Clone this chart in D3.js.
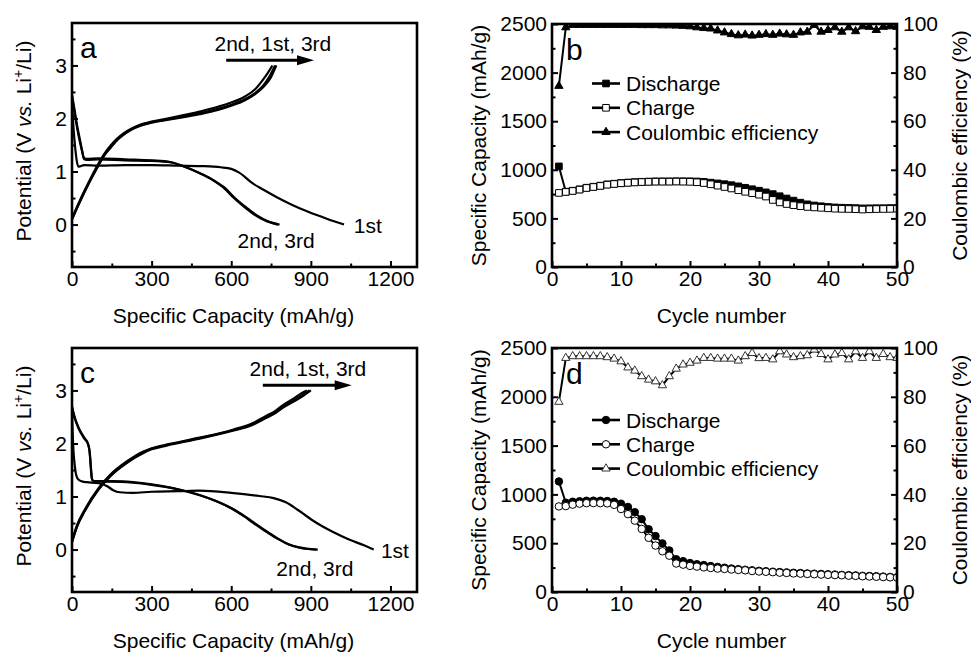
<!DOCTYPE html>
<html>
<head>
<meta charset="utf-8">
<script src="https://cdn.jsdelivr.net/npm/d3@7"></script>
<style>
  body { margin: 0; background: #fff; }
</style>
</head>
<body>
<svg id="chart" width="971" height="653"></svg>
<script>
// axis values
var capacityDomain = [0, 1300];
var capacityTicks = [0, 300, 600, 900, 1200];
var capacityMinor = [150, 450, 750, 1050];
var potentialDomain = [-0.8, 3.8];
var potentialTicks = [0, 1, 2, 3];
var potentialMinor = [-0.5, 0.5, 1.5, 2.5, 3.5];

var cycleDomain = [0, 50];
var cycleTicks = [0, 10, 20, 30, 40, 50];
var cycleMinor = [5, 15, 25, 35, 45];
var specificDomain = [0, 2500];
var specificTicks = [0, 500, 1000, 1500, 2000, 2500];
var specificMinor = [250, 750, 1250, 1750, 2250];
var efficiencyDomain = [0, 100];
var efficiencyTicks = [0, 20, 40, 60, 80, 100];
var efficiencyMinor = [10, 30, 50, 70, 90];

var legendLabels = ['Discharge', 'Charge', 'Coulombic efficiency'];

// panel a: [capacity mAh/g, potential V]
var aDischarge1 = [[0, 2.3], [6, 1.8], [12, 1.45], [18, 1.2], [24, 1.09], [32, 1.1], [45, 1.12], [100, 1.11],
  [200, 1.12], [300, 1.12], [400, 1.11], [500, 1.1], [560, 1.08], [600, 1.05], [630, 0.98], [680, 0.78],
  [720, 0.66], [770, 0.52], [830, 0.37], [890, 0.24], [960, 0.11], [1025, 0]];
var aDischarge2 = [[0, 2.45], [10, 2.15], [20, 1.85], [30, 1.6], [38, 1.4], [45, 1.25], [55, 1.24], [100, 1.25],
  [200, 1.23], [300, 1.21], [370, 1.18], [420, 1.1], [480, 0.97], [530, 0.84], [570, 0.7], [610, 0.5],
  [650, 0.33], [690, 0.18], [730, 0.07], [775, 0]];
var aDischarge3 = [[0, 2.42], [10, 2.1], [20, 1.8], [30, 1.55], [38, 1.38], [46, 1.23], [56, 1.22], [100, 1.23],
  [200, 1.21], [300, 1.2], [375, 1.17], [425, 1.09], [485, 0.96], [535, 0.83], [576, 0.69], [616, 0.49],
  [657, 0.32], [697, 0.17], [738, 0.06], [782, 0]];
var aCharge1 = [[0, 0.1], [30, 0.44], [60, 0.75], [94, 1.07], [120, 1.3], [144, 1.45], [170, 1.6], [194, 1.7],
  [225, 1.8], [256, 1.87], [300, 1.93], [381, 2.0], [481, 2.1], [550, 2.18], [600, 2.26], [650, 2.36],
  [690, 2.48], [720, 2.62], [745, 2.8], [765, 3.0]];
var aCharge2 = [[0, 0.12], [30, 0.46], [60, 0.77], [94, 1.1], [120, 1.32], [144, 1.48], [170, 1.62], [194, 1.72],
  [225, 1.81], [256, 1.88], [300, 1.94], [381, 2.02], [481, 2.13], [550, 2.22], [600, 2.3], [650, 2.41],
  [690, 2.55], [715, 2.7], [738, 2.86], [755, 3.0]];
var aCharge3 = [[0, 0.1], [30, 0.43], [60, 0.74], [94, 1.06], [120, 1.29], [144, 1.44], [170, 1.59], [194, 1.69],
  [225, 1.79], [256, 1.86], [300, 1.92], [381, 1.99], [481, 2.08], [550, 2.16], [600, 2.24], [650, 2.34],
  [690, 2.46], [722, 2.6], [750, 2.78], [770, 3.0]];

// panel c
var cDischarge1 = [[0, 2.55], [4, 2.0], [8, 1.7], [14, 1.45], [22, 1.33], [40, 1.28], [56, 1.27], [100, 1.25],
  [131, 1.2], [155, 1.12], [180, 1.08], [230, 1.07], [300, 1.09], [400, 1.1], [481, 1.11], [600, 1.07],
  [706, 1.01], [760, 0.97], [806, 0.89], [850, 0.75], [919, 0.51], [980, 0.34], [1044, 0.19], [1100, 0.08],
  [1137, 0]];
var cDischarge2 = [[0, 2.7], [10, 2.5], [25, 2.3], [45, 2.12], [60, 2.0], [66, 1.85], [70, 1.6], [73, 1.4],
  [77, 1.31], [90, 1.29], [150, 1.29], [230, 1.27], [300, 1.23], [380, 1.16], [480, 1.03], [540, 0.92],
  [606, 0.76], [650, 0.62], [681, 0.51], [725, 0.36], [769, 0.22], [810, 0.11], [856, 0.04], [920, 0]];
var cDischarge3 = [[0, 2.68], [10, 2.48], [25, 2.28], [45, 2.1], [61, 1.98], [67, 1.83], [71, 1.58], [74, 1.39],
  [78, 1.3], [92, 1.28], [150, 1.28], [230, 1.26], [300, 1.22], [385, 1.15], [485, 1.02], [545, 0.91],
  [612, 0.75], [656, 0.61], [688, 0.5], [731, 0.35], [775, 0.21], [816, 0.1], [862, 0.03], [926, 0]];
var cCharge1 = [[0, 0.15], [19, 0.44], [50, 0.75], [100, 1.14], [144, 1.39], [206, 1.64], [269, 1.83], [300, 1.9],
  [356, 1.97], [481, 2.1], [606, 2.25], [680, 2.36], [731, 2.5], [765, 2.58], [794, 2.69], [840, 2.82],
  [870, 2.92], [895, 3.0]];
var cCharge2 = [[0, 0.16], [19, 0.46], [50, 0.77], [100, 1.16], [144, 1.41], [206, 1.66], [269, 1.85], [300, 1.91],
  [356, 1.98], [481, 2.11], [606, 2.26], [680, 2.38], [731, 2.52], [765, 2.61], [794, 2.72], [836, 2.85],
  [862, 2.94], [885, 3.0]];
var cCharge3 = [[0, 0.14], [19, 0.43], [50, 0.74], [100, 1.13], [144, 1.38], [206, 1.63], [269, 1.82], [300, 1.89],
  [356, 1.96], [481, 2.09], [606, 2.24], [680, 2.35], [731, 2.48], [765, 2.57], [794, 2.67], [842, 2.81],
  [874, 2.91], [900, 3.0]];

// panels b and d: one value per cycle
var cycles = [1, 2, 3, 4, 5, 6, 7, 8, 9, 10, 11, 12, 13, 14, 15, 16, 17, 18, 19, 20, 21, 22, 23, 24, 25,
  26, 27, 28, 29, 30, 31, 32, 33, 34, 35, 36, 37, 38, 39, 40, 41, 42, 43, 44, 45, 46, 47, 48, 49, 50];

var bDischarge = [1035, 775, 785, 799, 816, 826, 837, 850, 857, 864, 869, 873, 877, 879, 881, 881, 881, 882,
  882, 882, 880, 876, 868, 860, 852, 842, 830, 815, 800, 785, 768, 750, 728, 705, 683, 662, 645, 633, 625,
  618, 613, 610, 608, 606, 603, 604, 605, 605, 606, 607];
var bCharge = [762, 772, 782, 796, 813, 823, 834, 847, 854, 861, 866, 870, 874, 876, 878, 878, 878, 879, 878,
  876, 872, 864, 851, 837, 823, 808, 790, 774, 760, 744, 725, 690, 665, 648, 636, 626, 618, 613, 609, 604,
  600, 598, 597, 595, 591, 594, 596, 597, 598, 600];
var bEfficiency = [74.5, 98.6, 99.6, 99.6, 99.6, 99.6, 99.6, 99.6, 99.6, 99.6, 99.6, 99.6, 99.5, 99.5, 99.5,
  99.4, 99.4, 99.3, 99.2, 99.0, 98.6, 98.3, 98.1, 97.3, 96.5, 95.8, 95.3, 95.6, 95.2, 95.5, 95.8, 95.5, 96.0,
  95.7, 95.5, 96.5, 96.8, 99.6, 96.8, 97.5, 98.6, 96.8, 98.6, 97.0, 99.0, 98.8, 97.5, 98.8, 99.0, 98.8];

var dDischarge = [1133, 915, 925, 930, 935, 936, 935, 932, 925, 905, 872, 818, 746, 643, 573, 498, 426, 336,
  316, 297, 285, 276, 266, 257, 249, 241, 234, 228, 222, 217, 213, 208, 204, 201, 197, 194, 190, 188, 185,
  181, 179, 176, 172, 170, 166, 164, 161, 158, 155, 151];
var dCharge = [877, 880, 895, 905, 910, 911, 910, 908, 893, 850, 798, 731, 646, 555, 476, 417, 372, 292, 280,
  267, 260, 252, 246, 240, 236, 230, 226, 222, 215, 210, 207, 203, 198, 195, 190, 188, 185, 182, 178, 176,
  173, 171, 167, 165, 161, 159, 156, 153, 150, 147];
var dEfficiency = [77.9, 95.9, 96.6, 96.6, 96.6, 96.6, 96.6, 96.2, 95.6, 94.5, 92.0, 90.7, 88.4, 87.0, 86.3,
  84.7, 88.4, 91.5, 93.2, 93.9, 94.8, 95.9, 95.9, 95.6, 95.6, 95.6, 94.8, 96.6, 97.9, 95.8, 95.9, 95.3, 98.6,
  97.3, 96.2, 96.6, 97.0, 99.3, 97.5, 95.3, 97.3, 97.9, 95.3, 98.6, 95.9, 98.6, 95.9, 97.5, 96.2, 95.9];

var fontFamily = '"Liberation Sans", Arial, Helvetica, sans-serif';
var svg = d3.select('#chart');

class Panel {
  constructor(id, left, top, width, height) {
    this.id = id;
    this.left = left;
    this.top = top;
    this.width = width;
    this.height = height;
    this.elem = svg.append("svg:g")
        .attr("transform", 'translate(' + left + ',' + top + ')')
        .attr("font-family", fontFamily);
  }

  drawAxis(axis, transform) {
    var g = this.elem.append("svg:g")
        .attr("transform", transform)
        .call(axis);
    g.attr("font-size", 21).attr("font-family", fontFamily);
    g.select('.domain').remove();
    g.selectAll('.tick line').attr("stroke", '#000').attr("stroke-width", 2);
    g.selectAll('.tick text').attr("fill", '#000');
    return g;
  }

  drawFrame() {
    this.elem.append("svg:rect")
        .attr("x", 0)
        .attr("y", 0)
        .attr("width", this.width)
        .attr("height", this.height)
        .attr("fill", 'none')
        .attr("stroke", '#000')
        .attr("stroke-width", 2.6);
  }

  drawLabel(text, x, y) {
    this.elem.append("svg:text")
        .attr("x", x)
        .attr("y", y)
        .attr("font-size", 30)
        .text(text);
  }

  drawXTitle(text, shift) {
    this.elem.append("svg:text")
        .attr("x", this.width / 2 + shift)
        .attr("y", this.height + 56)
        .attr("text-anchor", 'middle')
        .attr("font-size", 21)
        .text(text);
  }

  yTitle(x, shift) {
    return this.elem.append("svg:text")
        .attr("transform", 'translate(' + x + ',' + (this.height / 2 + shift) + ') rotate(-90)')
        .attr("text-anchor", 'middle')
        .attr("font-size", 21);
  }
}

class VoltagePanel extends Panel {
  constructor(id, left, top, width, height, discharges, charges) {
    super(id, left, top, width, height);
    this.discharges = discharges;
    this.charges = charges;
    this.x = d3.scaleLinear().domain(capacityDomain).range([0, width]);
    this.y = d3.scaleLinear().domain(potentialDomain).range([height, 0]);
  }

  draw(label, notes, arrow) {
    this.drawAxes();
    this.drawCurves();
    this.drawNotes(notes);
    this.drawArrow(arrow);
    this.drawFrame();
    this.drawLabel(label, 8, 35);
    this.drawXTitle('Specific Capacity (mAh/g)', -11);
    this.drawYTitle();
  }

  drawAxes() {
    var fmt = d3.format('d');
    this.drawAxis(d3.axisBottom(this.x).tickValues(capacityTicks).tickSize(-6).tickPadding(4).tickFormat(fmt),
        'translate(0,' + this.height + ')');
    this.drawAxis(d3.axisBottom(this.x).tickValues(capacityMinor).tickSize(-3.5).tickFormat(''),
        'translate(0,' + this.height + ')');
    this.drawAxis(d3.axisLeft(this.y).tickValues(potentialTicks).tickSize(-6).tickPadding(5).tickFormat(fmt),
        'translate(0,0)');
    this.drawAxis(d3.axisLeft(this.y).tickValues(potentialMinor).tickSize(-3.5).tickFormat(''),
        'translate(0,0)');
  }

  drawCurves() {
    var line = d3.line()
        .x(d => this.x(d[0]))
        .y(d => this.y(d[1]))
        .curve(d3.curveMonotoneX);
    this.discharges.concat(this.charges).forEach(curve => {
      this.elem.append("svg:path")
          .attr("d", line(curve))
          .attr("fill", 'none')
          .attr("stroke", '#000')
          .attr("stroke-width", 2.2)
          .attr("stroke-linejoin", 'round');
    });
  }

  drawNotes(notes) {
    notes.forEach(n => {
      this.elem.append("svg:text")
          .attr("x", this.x(n.at[0]))
          .attr("y", this.y(n.at[1]))
          .attr("font-size", 21)
          .text(n.text);
    });
  }

  drawArrow(arrow) {
    var x1 = this.x(arrow[0]);
    var x2 = this.x(arrow[1]);
    var y = this.y(arrow[2]);
    this.elem.append("svg:line")
        .attr("x1", x1)
        .attr("y1", y)
        .attr("x2", x2 - 12)
        .attr("y2", y)
        .attr("stroke", '#000')
        .attr("stroke-width", 3);
    this.elem.append("svg:path")
        .attr("d", 'M' + x2 + ',' + y + 'L' + (x2 - 17) + ',' + (y - 5) + 'L' + (x2 - 17) + ',' + (y + 5) + 'Z')
        .attr("fill", '#000');
  }

  drawYTitle() {
    var t = this.yTitle(-41, -4);
    t.append("svg:tspan").text('Potential (V ');
    t.append("svg:tspan").attr("font-style", 'italic').text('vs.');
    t.append("svg:tspan").text(' Li');
    t.append("svg:tspan").attr("font-size", 14).attr("dy", -8).text('+');
    t.append("svg:tspan").attr("dy", 8).text('/Li)');
  }
}

class CyclePanel extends Panel {
  constructor(id, left, top, width, height, discharge, charge, efficiency, style) {
    super(id, left, top, width, height);
    this.discharge = discharge;
    this.charge = charge;
    this.efficiency = efficiency;
    this.style = style;
    this.x = d3.scaleLinear().domain(cycleDomain).range([0, width]);
    this.y = d3.scaleLinear().domain(specificDomain).range([height, 0]);
    this.y2 = d3.scaleLinear().domain(efficiencyDomain).range([height, 0]);
  }

  draw(label, legendTop) {
    this.drawAxes();
    this.drawSeries();
    this.drawFrame();
    this.drawLabel(label, 14, 36);
    this.drawLegend(legendTop);
    this.drawXTitle('Cycle number', -3);
    this.yTitle(-66, 0).text('Specific Capacity (mAh/g)');
    this.yTitle(this.width + 70, 0).text('Coulombic efficiency (%)');
  }

  drawAxes() {
    var fmt = d3.format('d');
    var bottom = 'translate(0,' + this.height + ')';
    var right = 'translate(' + this.width + ',0)';
    this.drawAxis(d3.axisBottom(this.x).tickValues(cycleTicks).tickSize(-6).tickPadding(4).tickFormat(fmt), bottom);
    this.drawAxis(d3.axisBottom(this.x).tickValues(cycleMinor).tickSize(-3.5).tickFormat(''), bottom);
    this.drawAxis(d3.axisLeft(this.y).tickValues(specificTicks).tickSize(-6).tickPadding(5).tickFormat(fmt), 'translate(0,0)');
    this.drawAxis(d3.axisLeft(this.y).tickValues(specificMinor).tickSize(-3.5).tickFormat(''), 'translate(0,0)');
    this.drawAxis(d3.axisRight(this.y2).tickValues(efficiencyTicks).tickSize(-6).tickPadding(6).tickFormat(fmt), right);
    this.drawAxis(d3.axisRight(this.y2).tickValues(efficiencyMinor).tickSize(-3.5).tickFormat(''), right);
  }

  marker(g, kind, fill, stroke, x, y) {
    var size = {square: 44, circle: 44, triangle: 30}[kind];
    var type = {square: d3.symbolSquare, circle: d3.symbolCircle, triangle: d3.symbolTriangle}[kind];
    g.append("svg:path")
        .attr("transform", 'translate(' + x + ',' + y + ')')
        .attr("d", d3.symbol().type(type).size(size)())
        .attr("fill", fill)
        .attr("stroke", stroke)
        .attr("stroke-width", 1);
  }

  drawSeries() {
    this.elem.append("svg:clipPath")
        .attr("id", 'clip-' + this.id)
        .append("svg:rect")
        .attr("width", this.width)
        .attr("height", this.height);
    var g = this.elem.append("svg:g").attr("clip-path", 'url(#clip-' + this.id + ')');
    var s = this.style;
    var series = [
      {values: this.discharge, y: this.y, kind: s.shape, fill: '#000', stroke: '#000'},
      {values: this.charge, y: this.y, kind: s.shape, fill: '#fff', stroke: '#000'},
      {values: this.efficiency, y: this.y2, kind: 'triangle', fill: s.ceFill, stroke: s.ceStroke}
    ];
    series.forEach(ser => {
      var pts = cycles.map((c, i) => [this.x(c), ser.y(ser.values[i])]);
      g.append("svg:path")
          .attr("d", d3.line()(pts))
          .attr("fill", 'none')
          .attr("stroke", '#000')
          .attr("stroke-width", 2);
      pts.forEach(p => this.marker(g, ser.kind, ser.fill, ser.stroke, p[0], p[1]));
    });
  }

  drawLegend(top) {
    var s = this.style;
    var kinds = [[s.shape, '#000', '#000'], [s.shape, '#fff', '#000'], ['triangle', s.ceFill, s.ceStroke]];
    legendLabels.forEach((text, i) => {
      var y = top + i * 24.3;
      this.elem.append("svg:line")
          .attr("x1", 40)
          .attr("y1", y)
          .attr("x2", 68)
          .attr("y2", y)
          .attr("stroke", '#000')
          .attr("stroke-width", 2.6);
      this.marker(this.elem, kinds[i][0], kinds[i][1], kinds[i][2], 54, y);
      this.elem.append("svg:text")
          .attr("x", 74)
          .attr("y", y + 7.5)
          .attr("font-size", 21)
          .text(text);
    });
  }
}

new VoltagePanel('a', 72, 23, 345, 244, [aDischarge1, aDischarge2, aDischarge3], [aCharge1, aCharge2, aCharge3])
    .draw('a', [
      {text: '2nd, 1st, 3rd', at: [537, 3.28]},
      {text: '2nd, 3rd', at: [624, -0.45]},
      {text: '1st', at: [1062, -0.15]}
    ], [581, 912, 3.1]);

new VoltagePanel('c', 72, 348, 345, 244, [cDischarge1, cDischarge2, cDischarge3], [cCharge1, cCharge2, cCharge3])
    .draw('c', [
      {text: '2nd, 1st, 3rd', at: [669, 3.28]},
      {text: '2nd, 3rd', at: [770, -0.5]},
      {text: '1st', at: [1164, -0.15]}
    ], [719, 1054, 3.1]);

new CyclePanel('b', 552, 24, 345, 243, bDischarge, bCharge, bEfficiency,
    {shape: 'square', ceFill: '#000', ceStroke: '#000'}).draw('b', 59.5);

new CyclePanel('d', 552, 348, 345, 244, dDischarge, dCharge, dEfficiency,
    {shape: 'circle', ceFill: '#fff', ceStroke: '#333'}).draw('d', 72);
</script>
</body>
</html>
